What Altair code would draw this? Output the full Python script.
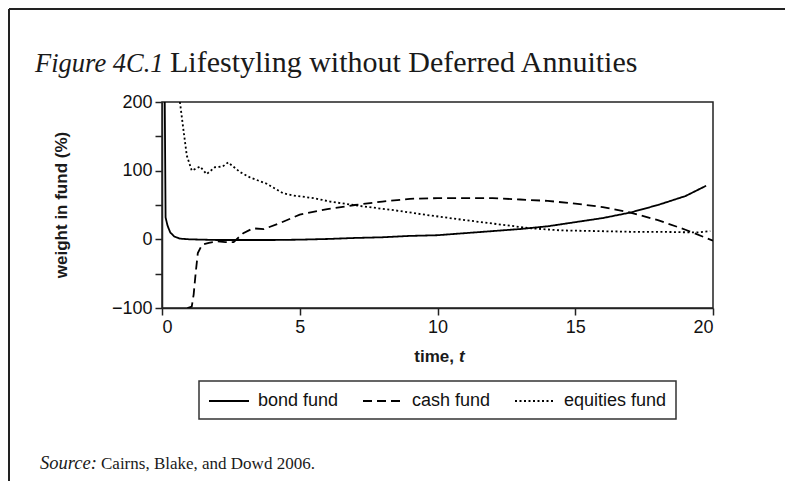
import altair as alt
import pandas as pd

funds = ["bond fund", "cash fund", "equities fund"]

bond_t = [0.10, 0.13, 0.20, 0.30, 0.45, 0.65, 1.0, 2.0, 3.0, 4.0, 5.0, 6.0, 7.0, 8.0, 9.0,
          10.0, 11.0, 12.0, 13.0, 14.0, 15.0, 16.0, 17.0, 18.0, 19.0, 19.75]
bond_w = [200, 32, 20, 10, 4, 1, 0, -1, -1, -1, -0.5, 0.5, 2, 3, 5,
          6, 9, 12, 15, 19, 25, 31, 39, 50, 63, 78]

cash_t = [0.92, 1.08, 1.15, 1.22, 1.30, 1.45, 1.7, 2.0, 2.3, 2.6, 2.95, 3.3, 3.7, 4.3, 5.0,
          6.0, 7.0, 8.0, 9.0, 10.0, 11.0, 12.0, 13.0, 14.0, 15.0, 16.0, 17.0, 18.0, 19.0, 20.0]
cash_w = [-100, -98, -80, -50, -20, -8, -5, -3, -4, -4, 9, 16, 15, 24, 36,
          44, 50, 55, 59, 60, 60, 60, 58, 56, 52, 47, 39, 28, 14, -2]

eq_t = [0.65, 0.77, 0.9, 1.08, 1.38, 1.62, 1.92, 2.2, 2.4, 2.83, 3.2, 3.8, 4.4, 4.75, 5.5,
        6.1, 7.3, 8.5, 9.7, 11.0, 12.2, 13.4, 14.5, 15.8, 17.0, 18.0, 19.4, 19.9]
eq_w = [200, 162, 122, 100, 106, 95, 105, 106, 112, 98, 90, 81, 67, 64, 60,
        55, 48, 42, 35, 28, 22, 16, 13, 12, 11, 11, 10, 12]

x_ticks = [0, 5, 10, 15, 20]
y_ticks = [-100, -50, 0, 50, 100, 150, 200]

rows = []
for name, ts, ws in [(funds[0], bond_t, bond_w), (funds[1], cash_t, cash_w), (funds[2], eq_t, eq_w)]:
    for i, (t, w) in enumerate(zip(ts, ws)):
        rows.append({"fund": name, "t": t, "w": w, "i": i})
df = pd.DataFrame(rows)

W, H = 551, 206
PL, PT, PR, PB = 154, 94, 72, 173

lines = alt.Chart(df).mark_line(strokeWidth=1.8, color="black", clip=True).encode(
    x=alt.X("t:Q", scale=alt.Scale(domain=[0, 20], nice=False),
            axis=alt.Axis(values=x_ticks, title=None, format="d")),
    y=alt.Y("w:Q", scale=alt.Scale(domain=[-100, 200], nice=False),
            axis=alt.Axis(values=y_ticks, title=None,
                          labelExpr="datum.value % 100 == 0 ? datum.label : ''")),
    strokeDash=alt.StrokeDash(
        "fund:N",
        scale=alt.Scale(domain=funds, range=[[1, 0], [9, 5], [2, 2.5]]),
        legend=alt.Legend(title=None, orient="none", legendX=37, legendY=279,
                          direction="horizontal", columns=3)),
    order="i:Q",
)

one = pd.DataFrame({"k": [0]})


def txt(s, x, y, font="Liberation Serif", size=26, style="normal", weight="normal",
        align="left", angle=0, baseline="alphabetic"):
    return alt.Chart(one).mark_text(
        text=s, font=font, fontSize=size, fontStyle=style, fontWeight=weight,
        align=align, baseline=baseline, angle=angle, color="#1a1a1a"
    ).encode(x=alt.value(x), y=alt.value(y))


texts = [
    txt("Figure 4C.1", -127, -30, size=26.5, style="italic"),
    txt("Lifestyling without Deferred Annuities", 8, -30, size=30),
    txt("Source:", -122, 367, size=18.5, style="italic"),
    txt("Cairns, Blake, and Dowd 2006.", -61, 367, size=17),
    txt("weight in fund (%)", -100, 103, font="Liberation Sans", size=17, weight="bold",
        align="center", angle=270, baseline="middle"),
    txt("time,", 292, 260, font="Liberation Sans", size=17, weight="bold", align="right"),
    txt("t", 297, 260, font="Liberation Sans", size=17, weight="bold", style="italic"),
]

frame_top = alt.Chart(one).mark_rule(color="#222", strokeWidth=2).encode(
    x=alt.value(-153), x2=alt.value(W + PR), y=alt.value(-93))
frame_left = alt.Chart(one).mark_rule(color="#222", strokeWidth=2).encode(
    x=alt.value(-153), y=alt.value(-93), y2=alt.value(H + PB))

chart = alt.layer(lines, *texts, frame_top, frame_left).properties(
    width=W, height=H,
    autosize=alt.AutoSizeParams(type="none"),
    padding={"left": PL, "top": PT, "right": PR, "bottom": PB},
    background="white",
).configure_view(
    stroke="#222", strokeWidth=1.5
).configure_axis(
    domainColor="#222", domainWidth=1.5, tickColor="#222", tickWidth=1.5, tickSize=7,
    labelFont="Liberation Sans", labelFontSize=18, labelColor="#111", grid=False,
    labelPadding=3,
).configure_legend(
    strokeColor="#333", strokeWidth=1.5, padding=9, cornerRadius=0,
    symbolType="M-1,0H3", symbolStrokeColor="black", symbolStrokeWidth=1.8,
    symbolSize=400, labelFont="Liberation Sans", labelFontSize=18, labelColor="#111",
    columnPadding=20, labelOffset=28,
)

chart.save("out.html", embed_options={"renderer": "svg", "actions": False})
